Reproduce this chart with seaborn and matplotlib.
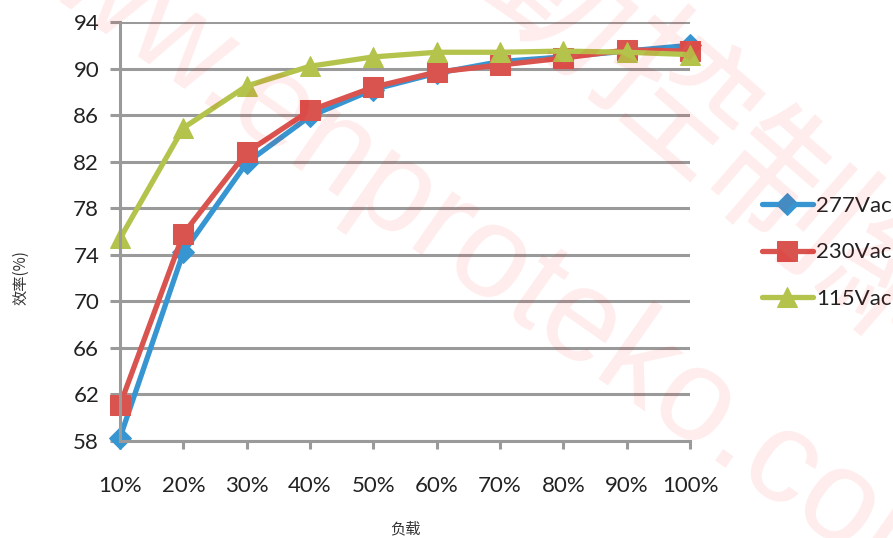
import matplotlib
matplotlib.use("Agg")
import matplotlib.pyplot as plt
import seaborn as sns
import pandas as pd

categories = ["10%", "20%", "30%", "40%", "50%", "60%", "70%", "80%", "90%", "100%"]
v277 = [58.3, 74.2, 81.9, 85.9, 88.2, 89.6, 90.6, 91.0, 91.5, 92.0]
v230 = [61.1, 75.8, 82.8, 86.4, 88.4, 89.7, 90.3, 90.9, 91.6, 91.5]
v115 = [75.4, 84.9, 88.5, 90.2, 91.0, 91.4, 91.4, 91.5, 91.4, 91.2]
series_names = ["277Vac", "230Vac", "115Vac"]
yticks = [58, 62, 66, 70, 74, 78, 82, 86, 90, 94]

colors = ["#3796d1", "#d9534f", "#b4c34b"]
markers = ["D", "s", "^"]
msizes = [11, 15, 15]

sns.set_theme(style="white")
plt.rcParams["font.family"] = ["Lato", "Noto Sans CJK SC", "DejaVu Sans"]

fig = plt.figure(figsize=(8.93, 5.38), dpi=100)
ax = fig.add_axes([120/893, 1-441/538, 570/893, 419/538])

for name, vals, c, m, ms in zip(series_names, [v277, v230, v115], colors, markers, msizes):
    df = pd.DataFrame({"load": categories, "eff": vals})
    sns.lineplot(data=df, x="load", y="eff", ax=ax, color=c, marker=m,
                 markersize=ms, markeredgecolor=c, linewidth=3.8,
                 label=name, clip_on=False, sort=False)

gray = "#9a9a9a"
ax.set_xlim(0, len(categories) - 1)
ax.set_ylim(yticks[0], yticks[-1])
ax.set_yticks(yticks)
ax.set_xticks(range(len(categories)))
ax.set_xticklabels(categories)
ax.yaxis.grid(True, color=gray, linewidth=2.2)
ax.set_axisbelow(True)
for s in ["top", "right"]:
    ax.spines[s].set_visible(False)
for s in ["left", "bottom"]:
    ax.spines[s].set_color(gray)
    ax.spines[s].set_linewidth(2.2)
ax.tick_params(axis="y", direction="out", length=7, width=2.2, color=gray,
               labelsize=16, pad=8, labelcolor="#222222", left=True)
ax.tick_params(axis="x", direction="out", length=6, width=2.2, color=gray,
               labelsize=16, pad=19, labelcolor="#222222", bottom=True)

ax.set_xlabel("负载", fontsize=11, color="#333333", labelpad=18,
              family=["Noto Sans CJK SC"], fontweight="light")
ax.set_ylabel("效率(%)", fontsize=11, color="#333333", labelpad=30,
              family=["Noto Sans CJK SC"], fontweight="light")
ax.yaxis.set_label_coords(-0.16, 0.39)

leg = ax.legend(loc="center left", bbox_to_anchor=(1.11, 0.45), frameon=False,
                fontsize=16, handlelength=2.3, handletextpad=0.15,
                labelspacing=1.2, borderaxespad=0)
for t in leg.get_texts():
    t.set_color("#222222")

# watermark
fig.text(472/893, 1-248/538, "www.enproteko.com", fontsize=95, color="red",
         alpha=0.08, rotation=-35, ha="center", va="center",
         rotation_mode="anchor", zorder=10, family=["Liberation Sans"])
fig.text(665/893, 1-115/538, "自動控制網", fontsize=108, color="red",
         alpha=0.08, rotation=-41, ha="center", va="center",
         rotation_mode="anchor", zorder=10, family=["Noto Sans CJK TC"],
         fontweight="light")

fig.savefig("out.png", dpi=100)
